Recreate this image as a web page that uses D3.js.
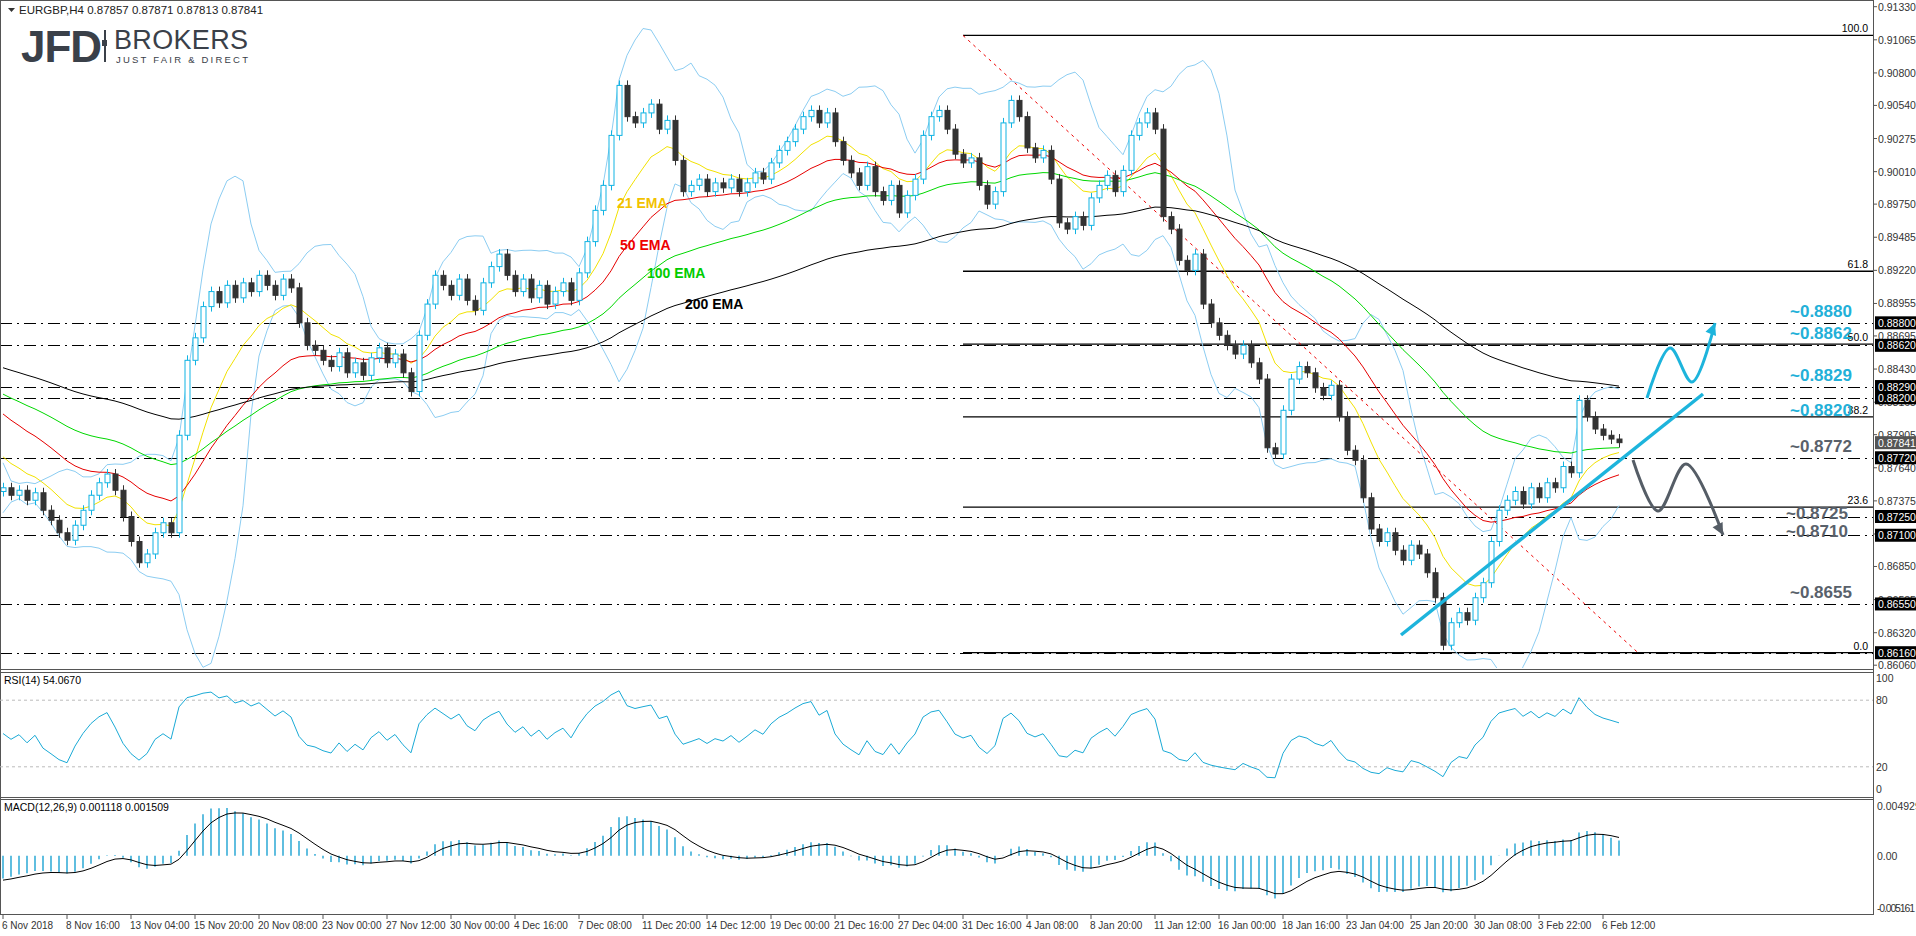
<!DOCTYPE html>
<html><head><meta charset="utf-8">
<script src="https://cdn.jsdelivr.net/npm/d3@7"></script>
<style>body{margin:0;background:#fff}svg{display:block}text{font-family:"Liberation Sans",Arial,sans-serif}</style>
</head><body><svg id="c" width="1916" height="936"></svg>
<script>
// closes, one candle per 8 hours (two H4 bars)
const closes = [
0.8748,0.8742,0.8746,0.8738,0.8744,0.8730,0.8722,0.8712,0.8706,0.8718,
0.8730,0.8742,0.8752,0.8759,0.8746,0.8725,0.8705,0.8688,0.8695,0.8712,
0.8720,0.8712,0.8790,0.8850,0.8868,0.8893,0.8905,0.8896,0.8910,0.8900,
0.8912,0.8905,0.8918,0.8910,0.8902,0.8915,0.8908,0.8880,0.8862,0.8858,
0.8850,0.8845,0.8856,0.8840,0.8848,0.8838,0.8852,0.8860,0.8848,0.8855,
0.8840,0.8825,0.8870,0.8895,0.8918,0.8910,0.8902,0.8915,0.8898,0.8890,
0.8912,0.8925,0.8935,0.8918,0.8905,0.8915,0.8900,0.8910,0.8895,0.8905,
0.8912,0.8898,0.8920,0.8945,0.8970,0.8990,0.9030,0.9070,0.9045,0.9040,
0.9048,0.9055,0.9035,0.9042,0.9010,0.8985,0.8990,0.8995,0.8985,0.8992,
0.8988,0.8995,0.8985,0.8992,0.9000,0.8995,0.9008,0.9018,0.9025,0.9035,
0.9045,0.9050,0.9040,0.9048,0.9025,0.9010,0.9000,0.8990,0.9005,0.8985,
0.8978,0.8990,0.8968,0.8982,0.8995,0.9030,0.9045,0.9050,0.9035,0.9015,
0.9008,0.9012,0.8990,0.8975,0.8985,0.9040,0.9058,0.9045,0.9020,0.9012,
0.9018,0.8995,0.8960,0.8955,0.8965,0.8958,0.8980,0.8990,0.8998,0.8985,
0.9002,0.9030,0.9040,0.9048,0.9035,0.8965,0.8955,0.8930,0.8922,0.8935,
0.8895,0.8880,0.8870,0.8862,0.8855,0.8862,0.8848,0.8835,0.8780,0.8775,
0.8810,0.8835,0.8845,0.8840,0.8828,0.8822,0.8830,0.8805,0.8778,0.8770,
0.8740,0.8715,0.8705,0.8712,0.8698,0.8690,0.8702,0.8695,0.8680,0.8660,
0.8622,0.8640,0.8648,0.8642,0.8660,0.8672,0.8705,0.8730,0.8738,0.8745,
0.8735,0.8748,0.8740,0.8752,0.8748,0.8765,0.8760,0.8818,0.8805,0.8795,
0.8790,0.8787,0.87841];
const firstOpen = 0.8745;
const emaSeeds = [{p:21,seed:0.8778,c:"#f2e200"},{p:50,seed:0.8812,c:"#e60000"},{p:100,seed:0.8826,c:"#00d800"},{p:200,seed:0.8846,c:"#000"}];
const dateLabels = ["6 Nov 2018","8 Nov 16:00","13 Nov 04:00","15 Nov 20:00","20 Nov 08:00","23 Nov 00:00","27 Nov 12:00","30 Nov 00:00","4 Dec 16:00","7 Dec 08:00","11 Dec 20:00","14 Dec 12:00","19 Dec 00:00","21 Dec 16:00","27 Dec 04:00","31 Dec 16:00","4 Jan 08:00","8 Jan 20:00","11 Jan 12:00","16 Jan 00:00","18 Jan 16:00","23 Jan 04:00","25 Jan 20:00","30 Jan 08:00","3 Feb 22:00","6 Feb 12:00"];
const priceTicks = [0.91330,0.91065,0.90800,0.90540,0.90275,0.90010,0.89750,0.89485,0.89220,0.88955,0.88695,0.88430,0.88165,0.87905,0.87640,0.87375,0.87110,0.86850,0.86585,0.86320,0.86060];
const levels = [0.8880,0.8862,0.8829,0.8820,0.8772,0.8725,0.8710,0.8655,0.8616];
// label text, price, colour, baseline offset from the line
const levelNotes = [["~0.8880",0.8880,"#22b0d8",-6],["~0.8862",0.8862,"#22b0d8",-6],["~0.8829",0.8829,"#22b0d8",-6],["~0.8820",0.8820,"#22b0d8",18],["~0.8772",0.8772,"#59616b",-6],["~0.8725",0.8725,"#59616b",2],["~0.8710",0.8710,"#59616b",2],["~0.8655",0.8655,"#59616b",-6]];
const fibHigh = 0.9110, fibLow = 0.8616;
const fibRatios = [100.0,61.8,50.0,38.2,23.6,0.0];
const lastPrice = 0.87841;

const svg = d3.select("#c");
const AX = 1873;
const n = closes.length;
const x = d3.scaleLinear().domain([0, n - 1]).range([3, 1619]);
const y = d3.scaleLinear().domain([0.8616, 0.9133]).range([652.7, 6.7]);
const yR = d3.scaleLinear().domain([0, 100]).range([789, 678]);
const yM = d3.scaleLinear().domain([-0.005161, 0.004929]).range([908, 806]);

const bars = closes.map((c, i) => {
  const o = i ? closes[i - 1] : firstOpen;
  return {i, o, c, h: Math.max(o, c) + 0.0004, l: Math.min(o, c) - 0.0004};
});
function ema(vals, p, seed) { const a = 2 / (p + 1); let e = seed ?? vals[0]; return vals.map(v => e = e + a * (v - e)); }
// periods halved since each candle spans two H4 bars
const emas = emaSeeds.map(s => ({...s, v: ema(closes, s.p / 2, s.seed)}));
const bb = closes.map((c, i) => {
  const w = closes.slice(Math.max(0, i - 9), i + 1);
  const m = d3.mean(w), sd = d3.deviation(w) || 0.001;
  return {m, u: m + 2 * sd, d: m - 2 * sd};
});
let ag = 0.0005, al = 0.0005;
const rsi = closes.map((c, i) => {
  const ch = i ? c - closes[i - 1] : 0;
  ag = (ag * 6 + Math.max(ch, 0)) / 7; al = (al * 6 + Math.max(-ch, 0)) / 7;
  return 100 - 100 / (1 + ag / al);
});
const e1 = ema(closes, 6, 0.8755), e2 = ema(closes, 13, 0.8780);
const macd = e1.map((v, i) => v - e2[i]);
const sig = ema(macd, 4.5, -0.0025);

// frames
const g = svg.append("g");
g.append("rect").attr("x", 0.5).attr("y", 0.5).attr("width", AX).attr("height", 914).attr("fill", "none").attr("stroke", "#555");
[669, 672, 797, 799].forEach(a =>
  g.append("line").attr("x1", 0).attr("x2", AX).attr("y1", a + .5).attr("y2", a + .5).attr("stroke", "#555"));
g.append("line").attr("x1", AX + .5).attr("x2", AX + .5).attr("y1", 0).attr("y2", 915).attr("stroke", "#555");

svg.append("clipPath").attr("id", "mc").append("rect").attr("x", 1).attr("y", 1).attr("width", AX - 1).attr("height", 667);
const main = svg.append("g").attr("clip-path", "url(#mc)");

// header & logo
svg.append("path").attr("d", "M8,8 L15,8 L11.5,12 Z").attr("fill", "#333");
svg.append("text").attr("x", 19).attr("y", 14).attr("font-size", 11.5).attr("fill", "#222").text("EURGBP,H4  0.87857 0.87871 0.87813 0.87841");
svg.append("text").attr("x", 21).attr("y", 62).attr("font-size", 44).attr("font-weight", 900).attr("fill", "#3a4049").attr("font-family", "Roboto").attr("letter-spacing", -1).text("JFD");
svg.append("rect").attr("x", 104).attr("y", 30).attr("width", 2).attr("height", 32).attr("fill", "#3a4049");
svg.append("rect").attr("x", 102).attr("y", 40).attr("width", 5).attr("height", 6).attr("fill", "#3a4049");
svg.append("text").attr("x", 114).attr("y", 49).attr("font-size", 27).attr("font-family", "Liberation Serif").attr("fill", "#3a4049").attr("textLength", 134).text("BROKERS");
svg.append("text").attr("x", 116).attr("y", 63).attr("font-size", 9.5).attr("font-family", "Liberation Serif").attr("fill", "#3a4049").attr("textLength", 132).text("JUST FAIR & DIRECT");

// fib
const fx = 963;
fibRatios.forEach(r => {
  const p = fibLow + (fibHigh - fibLow) * r / 100;
  main.append("line").attr("x1", fx).attr("x2", AX).attr("y1", y(p)).attr("y2", y(p)).attr("stroke", "#000").attr("stroke-width", 1.3);
  svg.append("text").attr("x", 1868).attr("y", y(p) - 3).attr("text-anchor", "end").attr("font-size", 10.5).text(r.toFixed(1));
});
levels.forEach(p => main.append("line").attr("x1", 0).attr("x2", AX).attr("y1", Math.round(y(p)) + .5).attr("y2", Math.round(y(p)) + .5)
  .attr("stroke", "#000").attr("stroke-width", 1.2).attr("stroke-dasharray", "12,5,2,5"));
main.append("line").attr("x1", fx).attr("y1", y(fibHigh)).attr("x2", 1638).attr("y2", y(fibLow)).attr("stroke", "#e00").attr("stroke-dasharray", "3,4");

// bollinger & emas
const ln = (acc, sc) => d3.line().x((d, i) => x(i)).y(d => sc(acc(d)));
["u", "d"].forEach(k => main.append("path").datum(bb).attr("d", ln(d => d[k], y)).attr("fill", "none").attr("stroke", "#8ccdf2"));
emas.forEach(e => main.append("path").datum(e.v).attr("d", ln(d => d, y)).attr("fill", "none").attr("stroke", e.c));

// candles
const cg = main.append("g");
bars.forEach(b => {
  const up = b.c >= b.o, col = up ? "#10b3e3" : "#333";
  cg.append("line").attr("x1", x(b.i) + .5).attr("x2", x(b.i) + .5).attr("y1", y(b.h)).attr("y2", y(b.l)).attr("stroke", col);
  const top = y(Math.max(b.o, b.c)), h = Math.max(1, Math.abs(y(b.o) - y(b.c)));
  cg.append("rect").attr("x", x(b.i) - 2).attr("y", top).attr("width", 5).attr("height", h)
    .attr("fill", up ? "#fff" : "#333").attr("stroke", col);
});

[["21 EMA", 617, 208, "#f2c200"], ["50 EMA", 620, 250, "#e00"], ["100 EMA", 647, 278, "#00cc00"], ["200 EMA", 685, 309, "#000"]]
  .forEach(([t, a, b, c]) => svg.append("text").attr("x", a).attr("y", b).attr("font-size", 14).attr("font-weight", "bold").attr("fill", c).text(t));

// trend line & scenarios
main.append("line").attr("x1", 1401).attr("y1", 635).attr("x2", 1703).attr("y2", 394).attr("stroke", "#1db4dc").attr("stroke-width", 3.5);
const curve = d3.line().curve(d3.curveCatmullRom);
function scen(pts, c) {
  svg.append("path").attr("d", curve(pts)).attr("fill", "none").attr("stroke", c).attr("stroke-width", 3);
  const [a, b] = pts.slice(-2), ang = Math.atan2(b[1] - a[1], b[0] - a[0]);
  const t = (r, s) => [b[0] + r * Math.cos(ang + s), b[1] + r * Math.sin(ang + s)];
  svg.append("path").attr("d", `M${b}L${t(-13, -0.45)}L${t(-13, 0.45)}Z`).attr("fill", c);
}
scen([[1647, 398], [1670, 348], [1692, 382], [1715, 323]], "#1db4dc");
scen([[1633, 460], [1658, 511], [1686, 464], [1723, 535]], "#555d66");
levelNotes.forEach(([t, p, c, off]) => svg.append("text").attr("x", off === 2 ? 1786 : 1790)
  .attr("y", y(p) + off).attr("font-size", 17).attr("font-weight", "bold").attr("fill", c).attr("font-family", "Open Sans").text(t));

// price axis
const axFont = 10.5;
priceTicks.forEach(p => {
  svg.append("line").attr("x1", AX).attr("x2", AX + 4).attr("y1", y(p)).attr("y2", y(p)).attr("stroke", "#555");
  svg.append("text").attr("x", 1878).attr("y", y(p) + 4).attr("font-size", axFont).attr("fill", "#333").text(p.toFixed(5));
});
levels.concat([lastPrice]).forEach(p => {
  svg.append("rect").attr("x", 1875).attr("y", y(p) - 6.5).attr("width", 41).attr("height", 13).attr("fill", p === lastPrice ? "#555" : "#000");
  svg.append("text").attr("x", 1878).attr("y", y(p) + 4).attr("font-size", axFont).attr("fill", "#fff").text(p.toFixed(5));
});

// RSI
svg.append("text").attr("x", 4).attr("y", 684).attr("font-size", 10.5).text("RSI(14) 54.0670");
[80, 20].forEach(v => svg.append("line").attr("x1", 0).attr("x2", AX).attr("y1", yR(v)).attr("y2", yR(v)).attr("stroke", "#bbb").attr("stroke-dasharray", "3,3"));
[100, 80, 20, 0].forEach(v => svg.append("text").attr("x", 1876).attr("y", yR(v) + 4).attr("font-size", axFont).attr("fill", "#333").text(v));
svg.append("path").datum(rsi).attr("d", ln(d => d, yR)).attr("fill", "none").attr("stroke", "#1aaad6");

// MACD
svg.append("text").attr("x", 4).attr("y", 811).attr("font-size", 10.5).text("MACD(12,26,9) 0.001118 0.001509");
macd.forEach((v, i) => svg.append("line").attr("x1", x(i)).attr("x2", x(i)).attr("y1", yM(0)).attr("y2", yM(v)).attr("stroke", "#38aed8").attr("stroke-width", 1.6));
svg.append("path").datum(sig).attr("d", ln(d => d, yM)).attr("fill", "none").attr("stroke", "#000");
[0.004929, 0, -0.005161].forEach(v => svg.append("text").attr("x", 1877).attr("y", yM(v) + 4).attr("font-size", axFont).attr("fill", "#333").attr("textLength", v < 0 ? 38 : null).text(v === 0 ? "0.00" : v.toFixed(6)));

// time axis
const xt = d3.scaleLinear().domain([0, dateLabels.length - 1]).range([3, 1603]);
dateLabels.forEach((t, k) => {
  svg.append("line").attr("x1", xt(k)).attr("x2", xt(k)).attr("y1", 915).attr("y2", 919).attr("stroke", "#555");
  svg.append("text").attr("x", xt(k) - 1).attr("y", 929).attr("font-size", 10).attr("fill", "#333").text(t);
});
</script></body></html>
